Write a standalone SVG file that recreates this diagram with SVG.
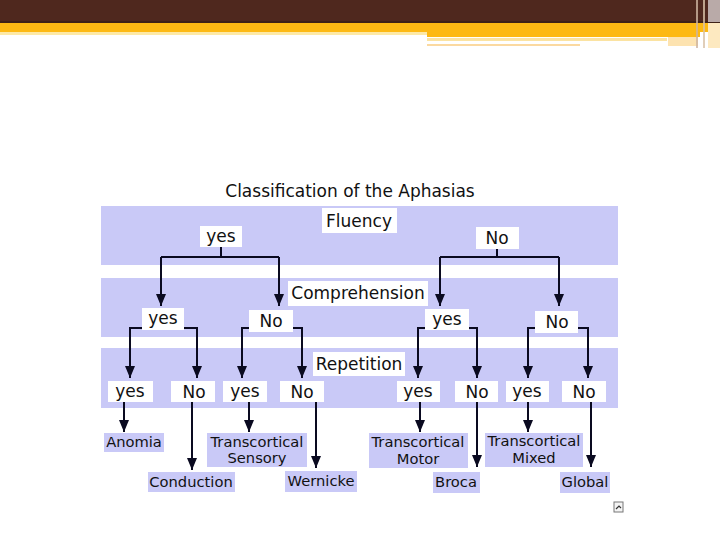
<svg xmlns="http://www.w3.org/2000/svg" width="720" height="540" viewBox="0 0 720 540">
<defs>
<marker id="ah" markerUnits="userSpaceOnUse" markerWidth="12" markerHeight="10" refX="12" refY="5" orient="auto">
<path d="M0,0 L12,5 L0,10 z" fill="#0a0a20"/>
</marker>
<style>
.band{fill:#c9c9f7}
.lbl{fill:#ffffff}
.out{fill:#c9c9f7}
.t{font-family:"DejaVu Sans",Verdana,sans-serif;font-size:17px;fill:#111;text-anchor:middle}
.o{font-family:"DejaVu Sans",Verdana,sans-serif;font-size:14.7px;fill:#111;text-anchor:middle}
.c{fill:none;stroke:#0a0a20;stroke-width:2}
.a{fill:none;stroke:#0a0a20;stroke-width:2;marker-end:url(#ah)}
</style>
</defs>
<rect width="720" height="540" fill="#ffffff"/>
<g id="header">
<rect x="0" y="0" width="720" height="21" fill="#4f281e"/>
<rect x="0" y="21" width="720" height="2" fill="#3e2218"/>
<rect x="0" y="23" width="720" height="9" fill="#fdb913"/>
<rect x="0" y="32" width="427" height="3" fill="#fde9a6"/>
<rect x="427" y="32" width="273" height="5" fill="#fdb913"/>
<rect x="427" y="38" width="240" height="3" fill="#fbe3a2"/>
<rect x="427" y="44" width="153" height="2" fill="#fbd9a0"/>
<rect x="668" y="37" width="30" height="9" fill="#fde3b0"/>
<rect x="696" y="0" width="2" height="48" fill="#cdb4a0" opacity="0.8"/>
<rect x="703" y="0" width="2" height="48" fill="#d8c2a8" opacity="0.8"/>
<rect x="708" y="0" width="12" height="22" fill="#b9aaa8"/>
<rect x="708" y="23" width="12" height="25" fill="#fde9c0"/>
</g>
<text x="350" y="197" class="t">Classification of the Aphasias</text>
<g id="bands">
<rect class="band" x="101" y="206" width="517" height="59"/>
<rect class="band" x="101" y="278" width="517" height="59"/>
<rect class="band" x="101" y="348" width="517" height="60"/>
</g>
<g id="connectors">
<path class="c" d="M221,247 V257 M161,257 H279 M497,249 V257 M440,257 H559"/>
<path class="a" d="M161,257 V306"/>
<path class="a" d="M279,257 V306"/>
<path class="a" d="M440,257 V306"/>
<path class="a" d="M559,257 V306"/>
<path class="a" d="M142,328 H130 V378"/>
<path class="a" d="M184,328 H197 V378"/>
<path class="a" d="M249,328 H242 V378"/>
<path class="a" d="M293,328 H302 V378"/>
<path class="a" d="M425,328 H418 V378"/>
<path class="a" d="M469,328 H477 V378"/>
<path class="a" d="M535,328 H528 V378"/>
<path class="a" d="M578,328 H588 V378"/>
<path class="a" d="M124,402 V432"/>
<path class="a" d="M192,402 V470"/>
<path class="a" d="M249,402 V432"/>
<path class="a" d="M316,402 V468"/>
<path class="a" d="M420,402 V432"/>
<path class="a" d="M477,402 V467"/>
<path class="a" d="M528,402 V432"/>
<path class="a" d="M591,402 V467"/>
</g>
<g id="fluency"><rect class="lbl" x="322" y="208" width="75" height="25"/><text class="t" x="359" y="227">Fluency</text></g>
<g id="f-yes"><rect class="lbl" x="200" y="226" width="42" height="21"/><text class="t" x="221" y="242">yes</text></g>
<g id="f-no"><rect class="lbl" x="476" y="227" width="43" height="22"/><text class="t" x="497" y="244">No</text></g>
<g id="comprehension"><rect class="lbl" x="288" y="281" width="140" height="25"/><text class="t" x="358" y="299">Comprehension</text></g>
<g id="c-yes-1"><rect class="lbl" x="142" y="308" width="42" height="22"/><text class="t" x="163" y="324">yes</text></g>
<g id="c-no-1"><rect class="lbl" x="249" y="310" width="44" height="22"/><text class="t" x="271" y="327">No</text></g>
<g id="c-yes-2"><rect class="lbl" x="425" y="309" width="44" height="21"/><text class="t" x="447" y="325">yes</text></g>
<g id="c-no-2"><rect class="lbl" x="535" y="311" width="43" height="22"/><text class="t" x="557" y="328">No</text></g>
<g id="repetition"><rect class="lbl" x="313" y="352" width="92" height="24"/><text class="t" x="359" y="370">Repetition</text></g>
<g id="r-yes-1"><rect class="lbl" x="108" y="381" width="45" height="21"/><text class="t" x="130" y="397">yes</text></g>
<g id="r-no-1"><rect class="lbl" x="171" y="381" width="44" height="21"/><text class="t" x="194" y="398">No</text></g>
<g id="r-yes-2"><rect class="lbl" x="223" y="381" width="44" height="21"/><text class="t" x="245" y="397">yes</text></g>
<g id="r-no-2"><rect class="lbl" x="280" y="381" width="44" height="21"/><text class="t" x="302" y="398">No</text></g>
<g id="r-yes-3"><rect class="lbl" x="397" y="381" width="43" height="21"/><text class="t" x="418" y="397">yes</text></g>
<g id="r-no-3"><rect class="lbl" x="455" y="381" width="43" height="21"/><text class="t" x="477" y="398">No</text></g>
<g id="r-yes-4"><rect class="lbl" x="506" y="381" width="43" height="21"/><text class="t" x="527" y="397">yes</text></g>
<g id="r-no-4"><rect class="lbl" x="562" y="381" width="44" height="21"/><text class="t" x="584" y="398">No</text></g>
<g id="anomia"><rect class="out" x="104" y="433" width="60" height="19"/><text class="o" x="134" y="447">Anomia</text></g>
<g id="conduction"><rect class="out" x="148" y="472" width="87" height="20"/><text class="o" x="191" y="487">Conduction</text></g>
<g id="tc-sensory"><rect class="out" x="207" y="433" width="100" height="34"/><text class="o" x="257" y="447">Transcortical</text><text class="o" x="257" y="463">Sensory</text></g>
<g id="wernicke"><rect class="out" x="285" y="471" width="72" height="21"/><text class="o" x="321" y="486">Wernicke</text></g>
<g id="tc-motor"><rect class="out" x="369" y="433" width="99" height="35"/><text class="o" x="418" y="447">Transcortical</text><text class="o" x="418" y="464">Motor</text></g>
<g id="broca"><rect class="out" x="433" y="472" width="47" height="21"/><text class="o" x="456" y="487">Broca</text></g>
<g id="tc-mixed"><rect class="out" x="485" y="433" width="98" height="34"/><text class="o" x="534" y="446">Transcortical</text><text class="o" x="534" y="463">Mixed</text></g>
<g id="global"><rect class="out" x="560" y="472" width="50" height="21"/><text class="o" x="585" y="487">Global</text></g>
<g id="icon">
<rect x="614" y="502" width="9" height="10" fill="#f4f4f4" stroke="#777" stroke-width="1"/>
<path d="M616,509 L619,506 L621,508" fill="none" stroke="#333" stroke-width="1.2"/>
</g>
</svg>
